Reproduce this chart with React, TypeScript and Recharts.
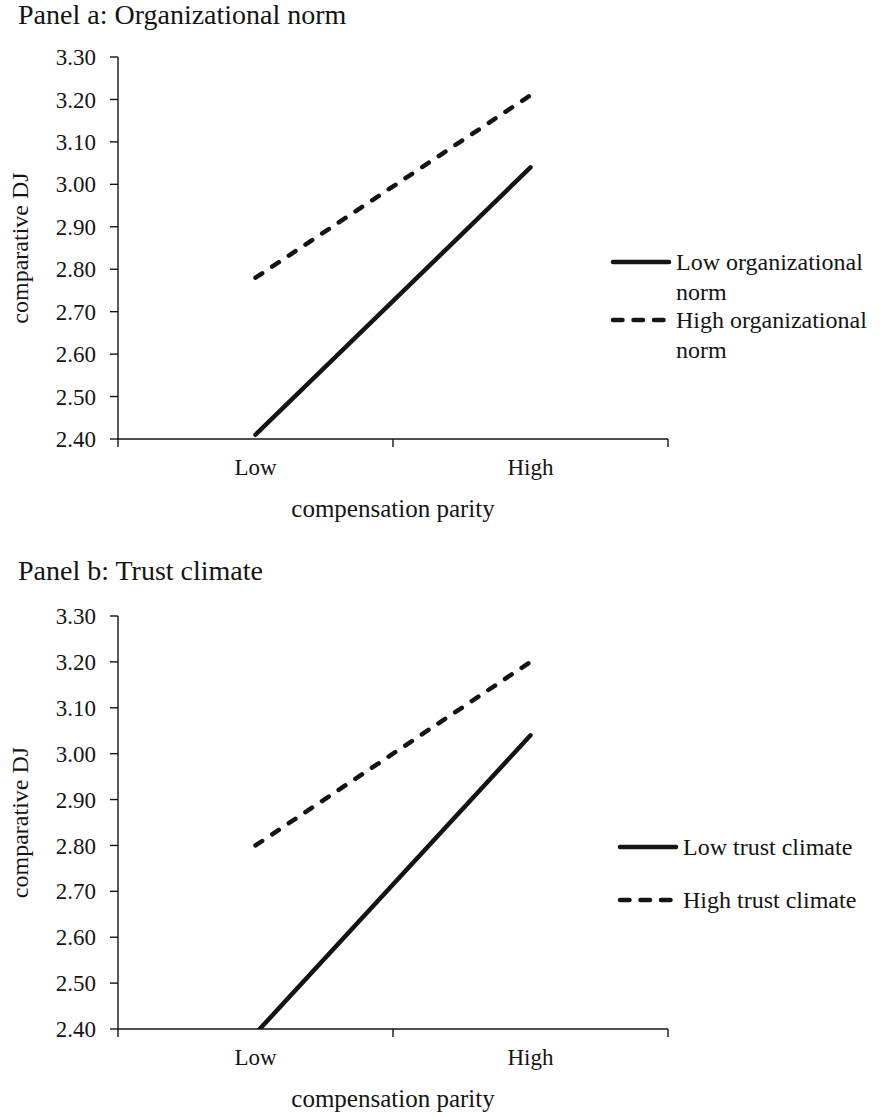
import { LineChart, Line, XAxis, YAxis, Legend } from "recharts";

const categories = ["Low", "High"];
const yTicks = [2.4, 2.5, 2.6, 2.7, 2.8, 2.9, 3.0, 3.1, 3.2, 3.3];

const normLow = [2.41, 3.04];
const normHigh = [2.78, 3.21];
const trustLow = [2.39, 3.04];
const trustHigh = [2.8, 3.2];

const INK = "#141414";
const FONT = "'Liberation Serif', 'Times New Roman', serif";
const DASH = "8 12";

// boundaries get tick marks, centres get the category label
const xTicks = [...categories.flatMap((_, i) => [i, i + 0.5]), categories.length];

function rows(low: number[], high: number[]) {
  return categories.map((c, i) => ({ x: i + 0.5, cat: c, low: low[i], high: high[i] }));
}

function XTick({ x, y, payload }: any) {
  const v = payload.value as number;
  if (Number.isInteger(v)) {
    return <line x1={x} y1={y} x2={x} y2={y + 8} stroke={INK} strokeWidth={1.4} />;
  }
  return (
    <text x={x} y={y + 36} textAnchor="middle" fontSize={23} fontFamily={FONT} fill={INK}>
      {categories[Math.floor(v)]}
    </text>
  );
}

function YLabel({ viewBox }: any) {
  const cy = viewBox.y + viewBox.height / 2;
  return (
    <text
      x={20}
      y={cy}
      transform={`rotate(-90 20 ${cy})`}
      textAnchor="middle"
      dominantBaseline="central"
      fontSize={24}
      fontFamily={FONT}
      fill={INK}
    >
      comparative DJ
    </text>
  );
}

function XLabel({ viewBox }: any) {
  return (
    <text
      x={viewBox.x + viewBox.width / 2}
      y={viewBox.y + 78}
      textAnchor="middle"
      fontSize={25}
      fontFamily={FONT}
      fill={INK}
    >
      compensation parity
    </text>
  );
}

function Marker({ dashed }: { dashed: boolean }) {
  return (
    <svg width={62} height={30} style={{ flex: "none" }}>
      <line
        x1={3}
        y1={15}
        x2={59}
        y2={15}
        stroke={INK}
        strokeWidth={4.5}
        strokeLinecap="round"
        strokeDasharray={dashed ? "9.5 11" : undefined}
      />
    </svg>
  );
}

function LegendBox({ names, gap }: { names: string[]; gap: number }) {
  return (
    <div style={{ fontFamily: FONT, fontSize: 24, color: INK, lineHeight: "30px" }}>
      {names.map((n, i) => (
        <div key={n} style={{ display: "flex", alignItems: "flex-start", marginBottom: gap }}>
          <Marker dashed={i === 1} />
          <div style={{ width: 200, marginLeft: 4 }}>{n}</div>
        </div>
      ))}
    </div>
  );
}

interface PanelProps {
  title: string;
  low: number[];
  high: number[];
  names: string[];
  top: number;
  height: number;
  marginTop: number;
  marginBottom: number;
  titleTop: number;
  legendLeft: number;
  legendTop: number;
  legendGap: number;
}

function Panel(p: PanelProps) {
  const data = rows(p.low, p.high);
  return (
    <div style={{ position: "absolute", left: 0, top: p.top, width: 883, height: p.height }}>
      <div
        style={{
          position: "absolute",
          left: 18,
          top: p.titleTop,
          fontFamily: FONT,
          fontSize: 28,
          color: INK,
          whiteSpace: "nowrap",
        }}
      >
        {p.title}
      </div>
      <LineChart
        width={883}
        height={p.height}
        data={data}
        margin={{ top: p.marginTop, right: 215, left: 0, bottom: p.marginBottom }}
      >
        <XAxis
          dataKey="x"
          type="number"
          domain={[0, categories.length]}
          ticks={xTicks}
          interval={0}
          tick={<XTick />}
          tickLine={false}
          tickSize={0}
          tickMargin={0}
          height={80}
          axisLine={{ stroke: INK, strokeWidth: 1.4 }}
          label={<XLabel />}
        />
        <YAxis
          type="number"
          domain={[2.4, 3.3]}
          ticks={yTicks}
          interval={0}
          allowDataOverflow
          width={118}
          tickSize={8}
          tickMargin={14}
          tickFormatter={(v: number) => v.toFixed(2)}
          tick={{ fill: INK, fontSize: 23, fontFamily: FONT }}
          tickLine={{ stroke: INK, strokeWidth: 1.4 }}
          axisLine={{ stroke: INK, strokeWidth: 1.4 }}
          label={<YLabel />}
        />
        <Legend
          layout="horizontal"
          align="center"
          verticalAlign="middle"
          content={<LegendBox names={p.names} gap={p.legendGap} />}
          wrapperStyle={{ position: "absolute", left: p.legendLeft, top: p.legendTop, width: 270 }}
        />
        <Line
          type="linear"
          dataKey="low"
          name={p.names[0]}
          stroke={INK}
          strokeWidth={4.5}
          strokeLinecap="round"
          dot={false}
          activeDot={false}
          isAnimationActive={false}
        />
        <Line
          type="linear"
          dataKey="high"
          name={p.names[1]}
          stroke={INK}
          strokeWidth={4.5}
          strokeLinecap="round"
          strokeDasharray={DASH}
          dot={false}
          activeDot={false}
          isAnimationActive={false}
        />
      </LineChart>
    </div>
  );
}

export default function App() {
  return (
    <div style={{ position: "absolute", left: 0, top: 0, width: 883, height: 1117, background: "#fff" }}>
      <Panel
        title="Panel a: Organizational norm"
        low={normLow}
        high={normHigh}
        names={["Low organizational norm", "High organizational norm"]}
        top={0}
        height={540}
        marginTop={57}
        marginBottom={21}
        titleTop={-1}
        legendLeft={610}
        legendTop={247}
        legendGap={-2}
      />
      <Panel
        title="Panel b: Trust climate"
        low={trustLow}
        high={trustHigh}
        names={["Low trust climate", "High trust climate"]}
        top={540}
        height={577}
        marginTop={76}
        marginBottom={8}
        titleTop={15}
        legendLeft={617}
        legendTop={292}
        legendGap={23}
      />
    </div>
  );
}
